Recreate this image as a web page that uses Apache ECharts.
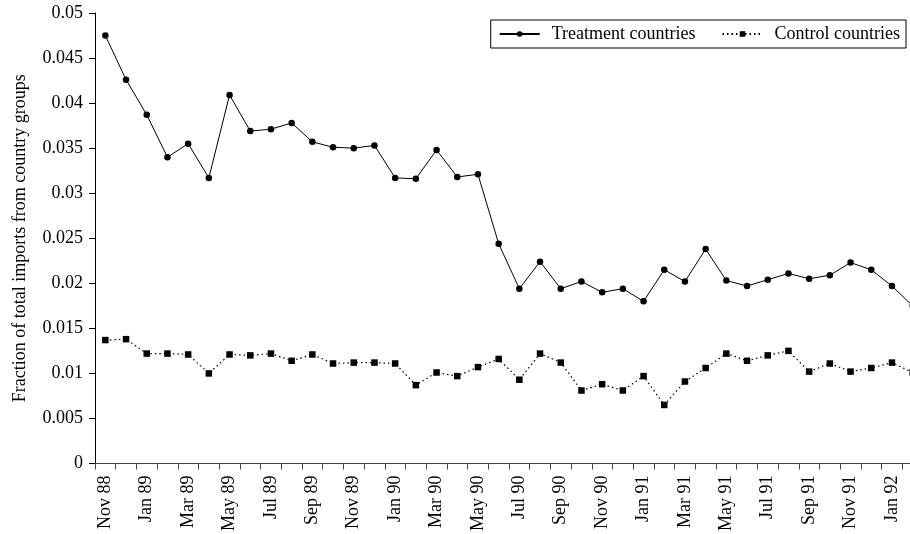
<!DOCTYPE html>
<html>
<head>
<meta charset="utf-8">
<script src="https://cdn.jsdelivr.net/npm/echarts@6/dist/echarts.min.js"></script>
<style>
  html, body { margin: 0; padding: 0; background: #fff; overflow: hidden; }
  /* plot runs past the right edge of the picture, as in the source */
  #chart { width: 923px; height: 534px; }
</style>
</head>
<body>
<div id="chart"></div>
<script>
  // months, Nov 88 .. Feb 92
  var months = [
    'Nov 88', 'Dec 88',
    'Jan 89', 'Feb 89', 'Mar 89', 'Apr 89', 'May 89', 'Jun 89', 'Jul 89', 'Aug 89', 'Sep 89', 'Oct 89', 'Nov 89', 'Dec 89',
    'Jan 90', 'Feb 90', 'Mar 90', 'Apr 90', 'May 90', 'Jun 90', 'Jul 90', 'Aug 90', 'Sep 90', 'Oct 90', 'Nov 90', 'Dec 90',
    'Jan 91', 'Feb 91', 'Mar 91', 'Apr 91', 'May 91', 'Jun 91', 'Jul 91', 'Aug 91', 'Sep 91', 'Oct 91', 'Nov 91', 'Dec 91',
    'Jan 92', 'Feb 92'
  ];

  var treatment = [
    0.0475, 0.0426,
    0.0387, 0.0340, 0.0355, 0.0317, 0.0409, 0.0369, 0.0371, 0.0378, 0.0357, 0.0351, 0.0350, 0.0353,
    0.0317, 0.0316, 0.0348, 0.0318, 0.0321, 0.0244, 0.0194, 0.0224, 0.0194, 0.0202, 0.0190, 0.0194,
    0.0180, 0.0215, 0.0202, 0.0238, 0.0203, 0.0197, 0.0204, 0.0211, 0.0205, 0.0209, 0.0223, 0.0215,
    0.0197, 0.0175
  ];

  var control = [
    0.0137, 0.0138,
    0.0122, 0.0122, 0.0121, 0.0100, 0.0121, 0.0120, 0.0122, 0.0114, 0.0121, 0.0111, 0.0112, 0.0112,
    0.0111, 0.0087, 0.0101, 0.0097, 0.0107, 0.0116, 0.0093, 0.0122, 0.0112, 0.0081, 0.0088, 0.0081,
    0.0097, 0.0065, 0.0091, 0.0106, 0.0122, 0.0114, 0.0120, 0.0125, 0.0102, 0.0111, 0.0102, 0.0106,
    0.0112, 0.0101
  ];

  var yTicks = { min: 0, max: 0.05, step: 0.005 };

  var font = "'Liberation Serif', 'Times New Roman', serif";

  var chart = echarts.init(document.getElementById('chart'), null, { renderer: 'canvas' });

  var option = {
    animation: false,
    backgroundColor: '#fff',
    textStyle: { fontFamily: font, color: '#000' },
    grid: {
      left: 95,
      right: 0,
      top: 13,
      bottom: 70
    },
    legend: {
      top: 20,
      right: 17,
      orient: 'horizontal',
      itemWidth: 40,
      itemHeight: 7,
      itemGap: 26,
      padding: [5, 6, 5, 8],
      borderColor: '#000',
      borderWidth: 1,
      textStyle: { fontFamily: font, fontSize: 18, color: '#000', padding: [0, 0, 0, 7] },
      data: ['Treatment countries', 'Control countries']
    },
    xAxis: {
      type: 'category',
      data: months,
      boundaryGap: true,
      axisLine: { lineStyle: { color: '#444', width: 1 } },
      axisTick: { show: true, interval: 0, length: 6, lineStyle: { color: '#444' } },
      axisLabel: {
        interval: 1,
        rotate: 90,
        margin: 12,
        fontFamily: font,
        fontSize: 18,
        color: '#000'
      },
      splitLine: { show: false }
    },
    yAxis: {
      type: 'value',
      min: yTicks.min,
      max: yTicks.max,
      interval: yTicks.step,
      name: 'Fraction of total imports from country groups',
      nameLocation: 'middle',
      nameGap: 66,
      nameTextStyle: { fontFamily: font, fontSize: 18, color: '#000' },
      axisLine: { show: true, lineStyle: { color: '#000', width: 1 } },
      axisTick: { show: true, length: 6, lineStyle: { color: '#000' } },
      axisLabel: { margin: 12, fontFamily: font, fontSize: 18, color: '#000' },
      splitLine: { show: false }
    },
    series: [
      {
        name: 'Treatment countries',
        type: 'line',
        data: treatment,
        symbol: 'circle',
        symbolSize: 6.5,
        showAllSymbol: true,
        itemStyle: { color: '#000' },
        lineStyle: { color: '#000', width: 1, type: 'solid' }
      },
      {
        name: 'Control countries',
        type: 'line',
        data: control,
        symbol: 'rect',
        symbolSize: 6.5,
        showAllSymbol: true,
        itemStyle: { color: '#000' },
        lineStyle: { color: '#000', width: 1.2, type: [1.5, 3] }
      }
    ]
  };

  chart.setOption(option);
</script>
</body>
</html>
